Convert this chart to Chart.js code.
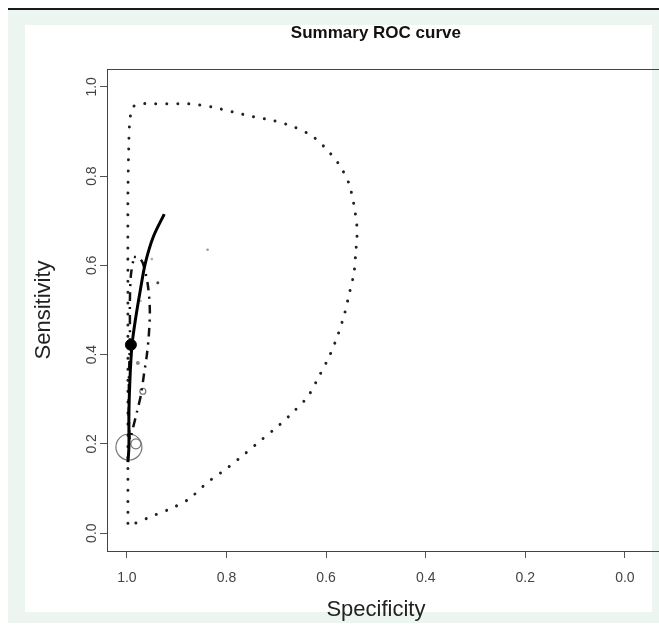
<!DOCTYPE html>
<html>
<head>
<meta charset="utf-8">
<script src="https://cdn.jsdelivr.net/npm/chart.js@4/dist/chart.umd.min.js"></script>
<style>
    html, body { margin: 0; padding: 0; overflow: hidden; background: #fff; }
    #rule { position: absolute; left: 8px; top: 8px; width: 651px; height: 2px; background: #1a1a1a; }
    #frame { position: absolute; left: 8px; top: 10px; width: 651px; height: 613px; background: #edf5f0; }
    #panel { position: absolute; left: 25px; top: 25px; width: 627px; height: 587px; background: #fff; }
    #wrap { position: absolute; left: 0; top: 0; width: 659px; height: 635px; }
</style>
</head>
<body>
<div id="rule"></div>
<div id="frame"></div>
<div id="panel"></div>
<div id="wrap"><canvas id="chart" width="659" height="635"></canvas></div>
<script>
// tick positions
var tickVals = [0, 0.2, 0.4, 0.6, 0.8, 1.0];

// outer confidence region (dotted)
var outerSpec = [0.998, 0.998, 0.998, 0.998, 0.998, 0.996, 0.994, 0.988, 0.970, 0.946, 0.920, 0.876,
    0.830, 0.788, 0.746, 0.704, 0.664, 0.628, 0.598, 0.572, 0.554, 0.544, 0.538, 0.538, 0.540, 0.544,
    0.554, 0.564, 0.578, 0.594, 0.614, 0.636, 0.662, 0.694, 0.730, 0.766, 0.802, 0.838, 0.876, 0.914,
    0.950, 0.984, 0.998];
var outerSens = [0.022, 0.141, 0.298, 0.522, 0.747, 0.881, 0.926, 0.955, 0.962, 0.962, 0.962, 0.962,
    0.955, 0.944, 0.933, 0.924, 0.910, 0.890, 0.859, 0.823, 0.783, 0.735, 0.686, 0.661, 0.635, 0.583,
    0.534, 0.487, 0.439, 0.395, 0.352, 0.307, 0.276, 0.242, 0.209, 0.175, 0.143, 0.114, 0.076, 0.054,
    0.038, 0.022, 0.022];

// region around the summary point (dot-dash)
var regionSpec = [0.986, 0.976, 0.968, 0.958, 0.954, 0.956, 0.960, 0.966, 0.972, 0.980, 0.988, 0.994,
    0.996, 0.996, 0.994, 0.994, 0.992, 0.986];
var regionSens = [0.619, 0.617, 0.605, 0.556, 0.500, 0.444, 0.399, 0.354, 0.309, 0.271, 0.235, 0.209,
    0.253, 0.343, 0.433, 0.522, 0.578, 0.619];

// SROC curve
var srocSpec = [0.998, 0.996, 0.996, 0.994, 0.990, 0.983, 0.973, 0.963, 0.947, 0.925];
var srocSens = [0.159, 0.193, 0.269, 0.343, 0.419, 0.478, 0.545, 0.605, 0.664, 0.715];

// summary estimate
var sumSpec = [0.992];
var sumSens = [0.422];

// individual studies
var studySpec = [0.996, 0.982, 0.968];
var studySens = [0.193, 0.200, 0.318];
var dotSpec = [0.978, 0.950, 0.938, 0.838, 0.972];
var dotSens = [0.381, 0.614, 0.561, 0.635, 0.520];

function pts(xs, ys) {
    return xs.map(function (v, i) { return {x: v, y: ys[i]}; });
}

// top of the box, and the axis lines running on to the edge
var boxLines = {
    id: 'boxLines',
    beforeDatasetsDraw: function (chart) {
        var a = chart.chartArea, ctx = chart.ctx;
        ctx.save();
        ctx.strokeStyle = '#444';
        ctx.lineWidth = 1;
        ctx.beginPath();
        ctx.moveTo(a.left, a.top + 0.5);
        ctx.lineTo(chart.width, a.top + 0.5);
        ctx.moveTo(a.right - 1, a.bottom + 0.5);
        ctx.lineTo(chart.width, a.bottom + 0.5);
        ctx.stroke();
        ctx.restore();
    }
};

var font = 'Liberation Sans, Arial, Helvetica, sans-serif';

new Chart(document.getElementById('chart'), {
    type: 'scatter',
    data: {
        datasets: [
            {
                label: 'summary',
                data: pts(sumSpec, sumSens),
                pointRadius: 5.5,
                pointBackgroundColor: '#000',
                pointBorderColor: '#000',
                showLine: false
            },
            {
                label: 'sroc',
                data: pts(srocSpec, srocSens),
                showLine: true,
                borderColor: '#000',
                borderWidth: 3,
                tension: 0.3,
                pointRadius: 0
            },
            {
                label: 'region',
                data: pts(regionSpec, regionSens),
                showLine: true,
                borderColor: '#111',
                borderWidth: 2.5,
                borderDash: [2, 6, 9, 6],
                tension: 0.3,
                pointRadius: 0
            },
            {
                label: 'outer',
                data: pts(outerSpec, outerSens),
                showLine: true,
                borderColor: '#222',
                borderWidth: 3,
                borderCapStyle: 'round',
                borderDash: [0.01, 11],
                tension: 0.25,
                pointRadius: 0
            },
            {
                label: 'studies',
                data: pts(studySpec, studySens),
                showLine: false,
                pointRadius: [13, 5, 3],
                pointBorderWidth: 1.2,
                pointBorderColor: '#777',
                pointBackgroundColor: 'rgba(0,0,0,0)'
            },
            {
                label: 'dots',
                data: pts(dotSpec, dotSens),
                showLine: false,
                pointRadius: [2, 1.3, 1.5, 1.3, 1],
                pointBorderWidth: 0,
                pointBackgroundColor: ['#888', '#aaa', '#444', '#999', '#aaa']
            }
        ]
    },
    options: {
        responsive: false,
        animation: false,
        events: [],
        layout: { padding: { left: 0, top: 0, bottom: 0, right: 13 } },
        plugins: {
            legend: { display: false },
            tooltip: { enabled: false },
            title: {
                display: true,
                fullSize: false,
                text: 'Summary ROC curve',
                color: '#111',
                font: { family: font, size: 17, weight: 'bold' },
                padding: { top: 23, bottom: 25.6 }
            }
        },
        scales: {
            x: {
                type: 'linear',
                reverse: true,
                min: -0.04,
                max: 1.04,
                afterFit: function (s) { s.height = 84; s.paddingLeft = 0; s.paddingRight = 0; },
                afterBuildTicks: function (s) { s.ticks = tickVals.map(function (v) { return {value: v}; }); },
                border: { display: true, color: '#444', width: 1 },
                grid: { drawOnChartArea: false, drawTicks: true, tickLength: 7, color: '#555' },
                ticks: {
                    color: '#444',
                    padding: 12,
                    font: { family: font, size: 14 },
                    callback: function (v) { return v.toFixed(1); }
                },
                title: {
                    display: true,
                    text: 'Specificity',
                    color: '#222',
                    font: { family: font, size: 22 },
                    padding: { top: 0, bottom: 11.8 }
                }
            },
            y: {
                type: 'linear',
                min: -0.04,
                max: 1.04,
                afterFit: function (s) { s.width = 107; s.paddingTop = 0; s.paddingBottom = 0; },
                afterBuildTicks: function (s) { s.ticks = tickVals.map(function (v) { return {value: v}; }); },
                border: { display: true, color: '#444', width: 1 },
                grid: { drawOnChartArea: false, drawTicks: true, tickLength: 7, color: '#555' },
                ticks: {
                    color: '#444',
                    padding: -2,
                    minRotation: 90,
                    maxRotation: 90,
                    crossAlign: 'center',
                    font: { family: font, size: 14 },
                    callback: function (v) { return v.toFixed(1); }
                },
                title: {
                    display: true,
                    text: 'Sensitivity',
                    color: '#222',
                    font: { family: font, size: 22 },
                    padding: { top: 30.8, bottom: 0 }
                }
            }
        }
    },
    plugins: [boxLines]
});
</script>
</body>
</html>
